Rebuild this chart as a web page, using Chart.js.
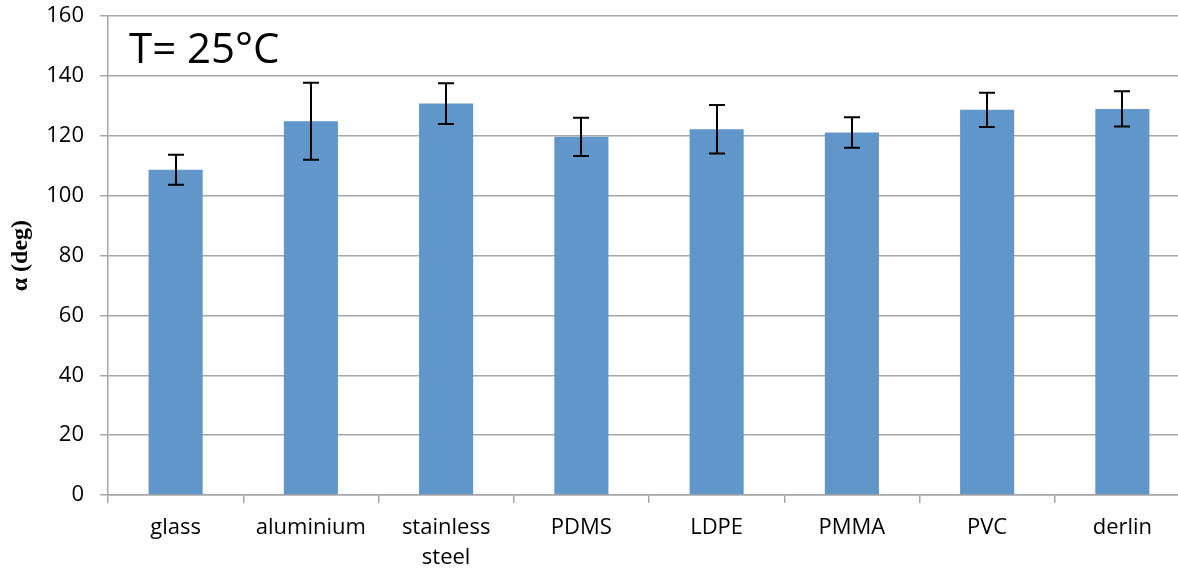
<!DOCTYPE html>
<html>
<head>
<meta charset="utf-8">
<script src="https://cdn.jsdelivr.net/npm/chart.js@4/dist/chart.umd.min.js"></script>
<style>
html,body{margin:0;padding:0;overflow:hidden;background:#fff;width:1178px;height:573px;}
#wrap{position:absolute;left:0;top:-13px;width:1192px;height:586px;}
</style>
</head>
<body>
<div id="wrap"><canvas id="c" width="1192" height="586"></canvas></div>
<script>
const categories = ["glass", "aluminium", ["stainless", "steel"], "PDMS", "LDPE", "PMMA", "PVC", "derlin"];
const angles = [108.7, 124.9, 130.8, 119.7, 122.2, 121.1, 128.7, 129.0];
const errors = [5.0, 12.9, 6.8, 6.4, 8.1, 5.1, 5.7, 5.9];
const yTicks = [0, 20, 40, 60, 80, 100, 120, 140, 160];
const annotationText = "T= 25°C";
const yTitle = "\u03b1 (deg)";

const GRID = "#a6a6a6";
const FONT = "'Open Sans', 'Noto Sans', sans-serif";

const errorBarPlugin = {
  id: "errorBars",
  afterDatasetsDraw(chart) {
    const ctx = chart.ctx;
    const meta = chart.getDatasetMeta(0);
    const y = chart.scales.y;
    ctx.save();
    ctx.strokeStyle = "#000";
    ctx.lineWidth = 2;
    meta.data.forEach((bar, i) => {
      const x = Math.round(bar.x);
      const hi = y.getPixelForValue(angles[i] + errors[i]);
      const lo = y.getPixelForValue(angles[i] - errors[i]);
      ctx.beginPath();
      ctx.moveTo(x, hi); ctx.lineTo(x, lo);
      ctx.moveTo(x - 8, hi); ctx.lineTo(x + 8, hi);
      ctx.moveTo(x - 8, lo); ctx.lineTo(x + 8, lo);
      ctx.stroke();
    });
    ctx.restore();
  }
};

const labelPlugin = {
  id: "tempLabel",
  afterDraw(chart) {
    const ctx = chart.ctx;
    ctx.save();
    ctx.fillStyle = "#000";
    ctx.font = "42px " + FONT;
    ctx.textBaseline = "alphabetic";
    ctx.textAlign = "left";
    ctx.fillText(annotationText, chart.chartArea.left + 21, chart.chartArea.top + 47);
    ctx.restore();
  }
};

new Chart(document.getElementById("c"), {
  type: "bar",
  data: {
    labels: categories,
    datasets: [{
      data: angles,
      backgroundColor: "#6096c9",
      borderWidth: 0,
      barPercentage: 0.4,
      categoryPercentage: 1.0
    }]
  },
  options: {
    responsive: false,
    animation: false,
    devicePixelRatio: 1,
    layout: { padding: { top: 1, right: 2, left: 0, bottom: 0 } },
    plugins: { legend: { display: false }, tooltip: { enabled: false } },
    scales: {
      y: {
        min: 0, max: 160,
        afterFit(s) { s.width = 108; },
        afterBuildTicks(s) { s.ticks = yTicks.map(v => ({ value: v })); },
        ticks: { color: "#000", font: { family: FONT, size: 22 }, padding: 16 },
        grid: { color: GRID, lineWidth: 1.5, tickLength: 8 },
        border: { color: GRID, width: 1.5 },
        title: {
          display: true, text: yTitle, color: "#000",
          font: { family: "'Liberation Serif', 'DejaVu Serif', serif", size: 24, weight: "bold" },
          padding: { top: 6, bottom: 4 }
        }
      },
      x: {
        afterFit(s) { s.height = 78; },
        ticks: { color: "#000", font: { family: FONT, size: 22, lineHeight: 1.35 }, padding: 10, maxRotation: 0, autoSkip: false },
        grid: { display: true, drawOnChartArea: false, color: GRID, lineWidth: 1.5, tickLength: 8, offset: true },
        border: { color: GRID, width: 1.5 }
      }
    }
  },
  plugins: [errorBarPlugin, labelPlugin]
});
</script>
</body>
</html>
